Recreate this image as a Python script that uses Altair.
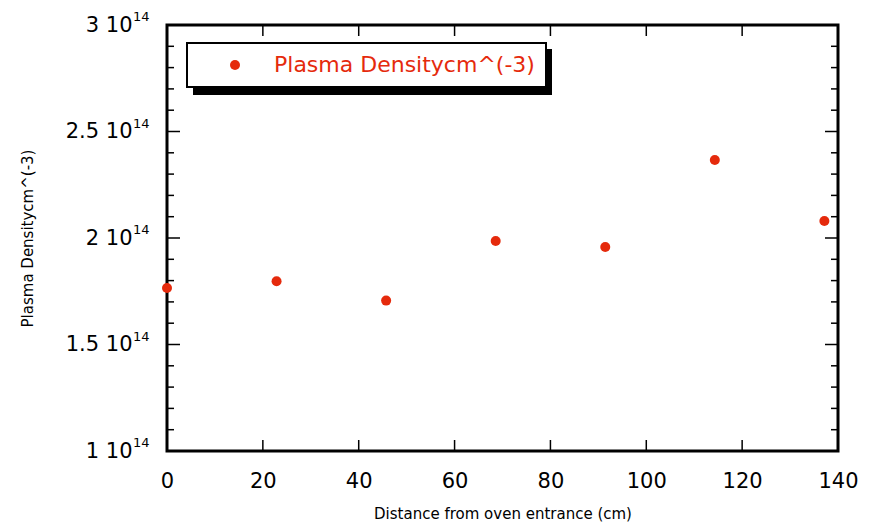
import altair as alt
import pandas as pd

# Measured plasma density along the oven
distance_cm = [0.0, 22.86, 45.72, 68.58, 91.44, 114.3, 137.16]
density = [1.765e14, 1.797e14, 1.706e14, 1.986e14, 1.958e14, 2.366e14, 2.080e14]
series_name = "Plasma Densitycm^(-3)"

x_major = [0, 20, 40, 60, 80, 100, 120, 140]
y_major = [1.0e14, 1.5e14, 2.0e14, 2.5e14, 3.0e14]
y_minor = [v * 1e13 for v in range(10, 31) if v % 5 != 0]

W, H = 671, 426
RED = "#e52a0c"
FONT = "DejaVu Sans"

df = pd.DataFrame({"x": distance_cm, "y": density, "series": series_name})

xs = alt.Scale(domain=[0, 140], nice=False, zero=False)
ys = alt.Scale(domain=[1e14, 3e14], nice=False, zero=False)

points = alt.Chart(df).mark_point(filled=True, opacity=1, size=100).encode(
    x=alt.X("x:Q", scale=xs, axis=alt.Axis(
        values=x_major, ticks=False, domain=False, grid=False, labelFlush=False,
        labelFont=FONT, labelFontSize=21, labelColor="black", labelPadding=19,
        title="Distance from oven entrance (cm)", titleFont=FONT, titleFontSize=15,
        titleFontWeight="normal", titleColor="black", titleY=67,
        titleBaseline="alphabetic")),
    y=alt.Y("y:Q", scale=ys, axis=alt.Axis(
        values=y_major, ticks=False, domain=False, grid=False, labelFlush=False,
        labelExpr="datum.value / 1e14 + ' 10'",
        labelFont=FONT, labelFontSize=21, labelColor="black", labelPadding=35,
        title=series_name, titleFont=FONT, titleFontSize=15,
        titleFontWeight="normal", titleColor="black", titleX=-140, titleY=H / 2,
        titleAngle=-90, titleAlign="center", titleBaseline="middle")),
    color=alt.Color("series:N", scale=alt.Scale(range=[RED]), legend=alt.Legend(
        title=None, orient="none", legendX=20, legendY=18, padding=11,
        fillColor="white", strokeColor="black", symbolType="circle",
        symbolSize=100, symbolStrokeWidth=0, symbolOffset=26, labelOffset=28,
        labelLimit=0, labelColor=RED, labelFont=FONT, labelFontSize=22)),
)

# exponent superscripts next to the y tick labels
sup = alt.Chart(pd.DataFrame({"y": y_major, "t": "14"})).mark_text(
    align="left", baseline="middle", dy=-8, fontSize=13, font=FONT, color="black"
).encode(x=alt.value(-34), y=alt.Y("y:Q", scale=ys), text="t:N")

# inward ticks on all four sides
xt = pd.DataFrame({"x": x_major})
x_bottom = alt.Chart(xt).mark_rule(color="black", strokeWidth=1.5).encode(
    x=alt.X("x:Q", scale=xs), y=alt.value(H), y2=alt.value(H - 11))
x_top = alt.Chart(xt).mark_rule(color="black", strokeWidth=1.5).encode(
    x=alt.X("x:Q", scale=xs), y=alt.value(0), y2=alt.value(11))

ymaj = pd.DataFrame({"y": y_major})
ymin = pd.DataFrame({"y": y_minor})
y_left_major = alt.Chart(ymaj).mark_rule(color="black", strokeWidth=1.5).encode(
    y=alt.Y("y:Q", scale=ys), x=alt.value(0), x2=alt.value(13))
y_right_major = alt.Chart(ymaj).mark_rule(color="black", strokeWidth=1.5).encode(
    y=alt.Y("y:Q", scale=ys), x=alt.value(W), x2=alt.value(W - 13))
y_left_minor = alt.Chart(ymin).mark_rule(color="black", strokeWidth=1.5).encode(
    y=alt.Y("y:Q", scale=ys), x=alt.value(0), x2=alt.value(7))
y_right_minor = alt.Chart(ymin).mark_rule(color="black", strokeWidth=1.5).encode(
    y=alt.Y("y:Q", scale=ys), x=alt.value(W), x2=alt.value(W - 7))

# drop shadow behind the legend box
shadow = alt.Chart(alt.Data(values=[{}])).mark_rect(color="black").encode(
    x=alt.value(26), x2=alt.value(385), y=alt.value(24), y2=alt.value(70))

chart = alt.layer(
    shadow, x_bottom, x_top, y_left_major, y_right_major, y_left_minor,
    y_right_minor, sup, points
).properties(
    width=W, height=H,
    autosize=alt.AutoSizeParams(type="none"),
    padding={"left": 167, "top": 25, "right": 42, "bottom": 74},
).configure(
    background="white",
    view=alt.ViewConfig(stroke="black", strokeWidth=3),
    legend=alt.LegendConfig(strokeWidth=2),
)

chart.save("out.html", embed_options={"renderer": "svg", "actions": False})
